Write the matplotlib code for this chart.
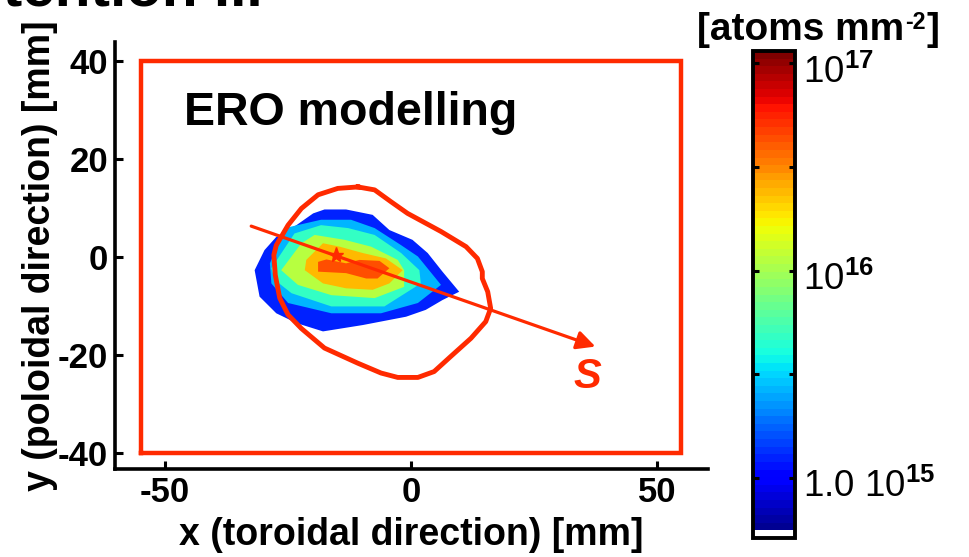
import numpy as np
import matplotlib
matplotlib.use("Agg")
import matplotlib.pyplot as plt
from matplotlib.colors import LogNorm, ListedColormap
from matplotlib.cm import ScalarMappable
from matplotlib.ticker import FixedLocator
from matplotlib.transforms import ScaledTranslation

plt.rcParams["font.family"] = ["Liberation Sans", "DejaVu Sans"]
plt.rcParams["mathtext.fontset"] = "custom"
plt.rcParams["mathtext.rm"] = "Liberation Sans"
plt.rcParams["mathtext.bf"] = "Liberation Sans:bold"

RED = "#ff2a00"

# ---- deposition density contours (mm), outermost to innermost ----
level_values = [1.25e15, 2.7e15, 4.7e15, 1.1e16, 2.35e16, 4.5e16]

lev1_x = [-17.6, -13.2, -7.8, -4.4, 0.3, 3.4, 6.4, 9.8, 6.4, 3.0, -1.0, -9.8,
          -17.9, -23.3, -27.4, -30.8, -31.8, -29.8, -27.4, -23.3, -19.9]
lev1_y = [9.7, 9.7, 8.6, 5.5, 3.5, 0.8, -3.0, -7.1, -8.8, -10.8, -12.2, -13.9,
          -15.2, -13.5, -11.5, -8.1, -2.7, 1.4, 4.1, 6.5, 8.9]

lev2_x = [-28.7, -25.7, -18.3, -12.2, -7.4, -2.0, 1.4, 6.1, 1.4, -6.1, -16.2,
          -25.0, -28.4]
lev2_y = [-1.3, 5.9, 7.6, 7.6, 5.9, 2.4, 0.1, -5.7, -9.4, -11.5, -11.5,
          -9.4, -5.4]

lev3_x = [-28.4, -23.7, -18.3, -12.8, -7.4, -2.0, 1.7, 2.0, -5.4, -16.2,
          -24.3, -27.7]
lev3_y = [-2.3, 4.8, 6.5, 5.9, 4.5, 0.8, -2.7, -5.4, -10.1, -10.1, -7.4, -4.7]

lev4_x = [-26.4, -22.3, -19.6, -13.5, -8.1, -2.7, -1.4, -1.4, -7.4, -16.2, -23.0]
lev4_y = [-2.7, 2.8, 4.5, 3.5, 2.1, -0.6, -2.7, -6.1, -8.4, -7.8, -5.7]

lev5_x = [-21.6, -21.3, -17.9, -14.5, -9.8, -5.1, -1.7, -4.4, -7.8, -13.2, -17.9]
lev5_y = [-2.7, -0.6, 2.8, 2.1, 0.8, -0.3, -2.7, -5.4, -6.7, -6.4, -5.4]

lev6_x = [-18.9, -17.2, -13.2, -10.5, -6.4, -4.4, -6.8, -9.1, -13.2, -18.9]
lev6_y = [-1.0, -0.5, -1.3, -0.6, -0.8, -2.3, -4.4, -4.4, -3.3, -3.0]

levels_x = [lev1_x, lev2_x, lev3_x, lev4_x, lev5_x, lev6_x]
levels_y = [lev1_y, lev2_y, lev3_y, lev4_y, lev5_y, lev6_y]

# ---- closed outline around the deposition zone (mm) ----
loop_x = [-10.8, -14.9, -18.9, -22.3, -25.0, -27.4, -27.9, -27.6, -26.7, -25.0,
          -22.3, -17.6, -10.8, -6.1, -2.7, 1.4, 4.7, 8.1, 12.2, 15.2, 16.2,
          15.6, 14.5, 14.5, 13.5, 11.2, 6.1, -0.7, -4.1, -7.4, -10.8]
loop_y = [14.3, 14.0, 12.7, 9.9, 6.5, 2.4, 0.4, -3.7, -8.4, -11.8, -14.6,
          -18.6, -21.7, -23.7, -24.6, -24.6, -23.4, -20.3, -16.6, -13.2, -10.5,
          -7.1, -4.4, -3.0, -0.3, 2.1, 5.2, 8.9, 11.3, 13.7, 14.3]

# ---- sample frame (mm) ----
frame_x = [-55, 55, 55, -55, -55]
frame_y = [-40, -40, 40, 40, -40]

# ---- s-coordinate arrow (mm) ----
s_start = (-32.5, 6.3)
s_end = (37.5, -18.3)
s_marker = (-15.2, 0.4)
s_label_pos = (35.9, -24.5)

x_ticks = [-50, 0, 50]
y_ticks = [-40, -20, 0, 20, 40]
cb_major = [1e15, 1e16, 1e17]
cb_minor = [10 ** 15.5, 10 ** 16.5]
cb_labels = [r"1.0 $\mathrm{10}^{\mathbf{15}}$",
             r"$\mathrm{10}^{\mathbf{16}}$",
             r"$\mathrm{10}^{\mathbf{17}}$"]
cb_min, cb_max = 10 ** 14.71, 10 ** 17.06

# jet map in 64 steps with the lowest step blank
jet_cols = plt.get_cmap("jet")(np.linspace(0, 1, 64))
jet_cols[0] = (1, 1, 1, 1)
cmap = ListedColormap(jet_cols)
norm = LogNorm(vmin=cb_min, vmax=cb_max)

fig = plt.figure(figsize=(9.7, 5.57), dpi=100)
W, H = 970, 557

def px_rect(x0, y0, x1, y1):
    return [x0 / W, 1 - y1 / H, (x1 - x0) / W, (y1 - y0) / H]

ax = fig.add_axes(px_rect(115, 42, 708, 469))
ax.set_xlim(-60.2, 60.4)
ax.set_ylim(-43.3, 43.9)

for xs, ys, val in zip(levels_x, levels_y, level_values):
    ax.fill(xs, ys, color=cmap(norm(val)), lw=0, zorder=2)

ax.plot(frame_x, frame_y, color=RED, lw=3.2, zorder=3, solid_joinstyle="miter")
ax.plot(loop_x, loop_y, color=RED, lw=3.5, zorder=4, solid_joinstyle="round")
ax.annotate("", xy=s_end, xytext=s_start,
            arrowprops=dict(arrowstyle="-|>", color=RED, lw=2.3,
                            mutation_scale=28, shrinkA=0, shrinkB=0),
            zorder=5)
ax.plot([s_marker[0]], [s_marker[1]], marker="*", ms=11, color=RED, zorder=6)
ax.text(s_label_pos[0], s_label_pos[1], "S", color=RED, fontsize=30,
        fontweight="bold", fontstyle="italic", ha="center", va="center", zorder=6)
ax.text(-46.2, 26.9, "ERO modelling", fontsize=33.5, fontweight="bold",
        ha="left", va="baseline", zorder=6)

for side in ("top", "right"):
    ax.spines[side].set_visible(False)
for side in ("left", "bottom"):
    ax.spines[side].set_linewidth(2.6)
ax.set_xticks(x_ticks)
ax.set_yticks(y_ticks)
ax.set_xticklabels([str(v) for v in x_ticks], fontsize=25, fontweight="bold")
ax.set_yticklabels([str(v) for v in y_ticks], fontsize=25, fontweight="bold")
ax.tick_params(direction="in", length=6, width=2.2, pad=5)
ax.set_xlabel("x (toroidal direction) [mm]", fontsize=27, fontweight="bold",
              labelpad=6)
ax.set_ylabel("y (poloidal direction) [mm]", fontsize=27, fontweight="bold",
              labelpad=0)

# colour bar
cax = fig.add_axes(px_rect(753, 51, 795, 538))
sm = ScalarMappable(norm=norm, cmap=cmap)
cb = fig.colorbar(sm, cax=cax)
cb.outline.set_linewidth(2.8)
cax.yaxis.set_major_locator(FixedLocator(cb_major))
cax.yaxis.set_minor_locator(FixedLocator(cb_minor))
cax.set_yticklabels(cb_labels)
cax.tick_params(which="both", direction="in", left=True, right=True,
                length=4, width=2.2, labelsize=26.5, pad=6)
shift_down = ScaledTranslation(0, -5 / 100, fig.dpi_scale_trans)
for lab in cax.get_yticklabels():
    lab.set_transform(lab.get_transform() + shift_down)

# colour bar unit, built from pieces so the exponent keeps a plain hyphen
unit_fs = 28
base_y = 1 - 40 / H
t1 = fig.text(697 / W, base_y, "[atoms mm", fontsize=unit_fs,
              fontweight="bold", ha="left", va="baseline")
fig.canvas.draw()
r = fig.canvas.get_renderer()
w1 = t1.get_window_extent(r).width
t2 = fig.text((697 + w1 + 1) / W, base_y + 11 / H, "-2",
              fontsize=unit_fs * 0.6, fontweight="bold", ha="left", va="baseline")
w2 = t2.get_window_extent(r).width
fig.text((697 + w1 + w2 + 2) / W, base_y, "]", fontsize=unit_fs,
         fontweight="bold", ha="left", va="baseline")

# heading, partly running off the top edge
fig.text(263 / W, 1 - 6 / H, "Retention ...", fontsize=42, fontweight="bold",
         ha="right", va="baseline")

fig.savefig("out.png", dpi=100)
